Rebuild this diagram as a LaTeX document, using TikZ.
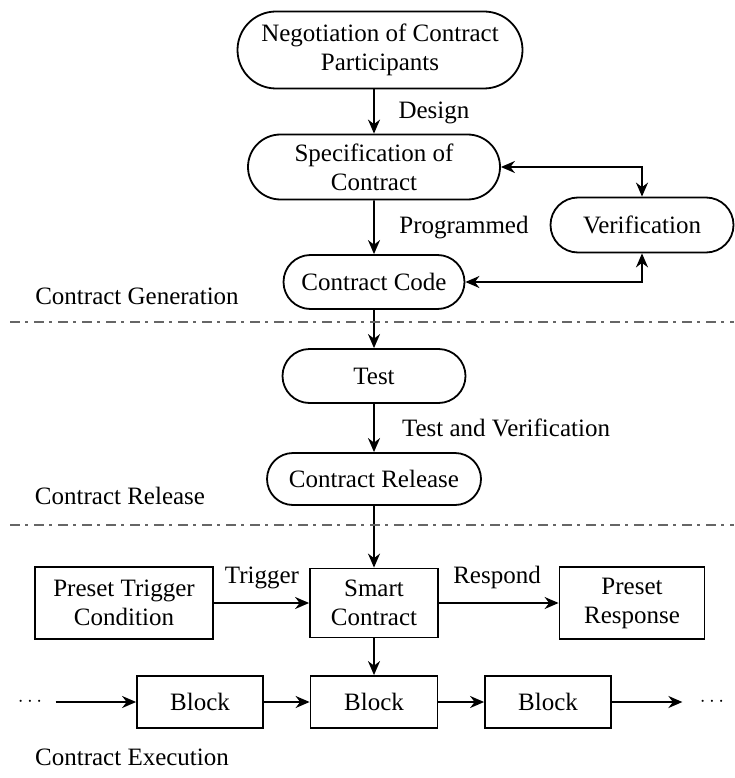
\documentclass[tikz,border=0pt]{standalone}
\usepackage{fontspec}
\setmainfont{Liberation Serif}
\usetikzlibrary{arrows.meta,shapes.misc}

\tikzset{
  phase/.style={draw, line width=1.8pt, rounded rectangle, align=center, inner sep=0pt},
  unit/.style={draw, line width=1.8pt, rectangle, align=center, inner sep=0pt},
  flow/.style={line width=1.8pt, -{Stealth[length=14pt,width=12pt]}},
  twoway/.style={line width=1.8pt, {Stealth[length=14pt,width=12pt]}-{Stealth[length=14pt,width=12pt]}},
  stage/.style={draw=black!60, line width=2.4pt, dash pattern=on 10pt off 5pt on 3pt off 6pt}
}

\begin{document}
\begin{tikzpicture}[x=1pt,y=-1pt, every node/.style={font=\fontsize{25}{29}\selectfont}]
            \useasboundingbox (0,0) rectangle (734,778);

            % contract generation
            \node[phase, minimum width=285pt, minimum height=77pt] (nego) at (380,50) {Negotiation of Contract\\Participants};
            \node[phase, minimum width=252pt, minimum height=65pt] (spec) at (374,167) {Specification of\\Contract};
            \node[phase, minimum width=183pt, minimum height=55pt] (verif) at (642,225) {Verification};
            \node[phase, minimum width=181pt, minimum height=54pt] (code) at (374,282) {Contract Code};

            % contract release
            \node[phase, minimum width=183pt, minimum height=54pt] (test) at (374,376) {Test};
            \node[phase, minimum width=214pt, minimum height=52pt] (release) at (374,479) {Contract Release};

            % contract execution
            \node[unit, minimum width=128pt, minimum height=69pt] (smart) at (374,603) {Smart\\Contract};
            \node[unit, minimum width=178pt, minimum height=72pt] (trigger) at (124,603) {Preset Trigger\\Condition};
            \node[unit, minimum width=145pt, minimum height=72pt] (response) at (632,603) {Preset\\Response};
            \node[unit, minimum width=126pt, minimum height=52pt] (blk1) at (200,702) {Block};
            \node[unit, minimum width=127pt, minimum height=52pt] (blk2) at (374,702) {Block};
            \node[unit, minimum width=126pt, minimum height=52pt] (blk3) at (548,702) {Block};
            \node[font=\fontsize{20}{20}\selectfont] (dotsL) at (30,702) {$\cdots$};
            \node[font=\fontsize{20}{20}\selectfont] (dotsR) at (712,702) {$\cdots$};

            \draw[flow] (spec.north |- nego.south) -- (spec.north);
            \draw[flow] (spec) -- (code);
            \draw[twoway] (spec.east) -| (verif.north);
            \draw[twoway] (code.east) -| (verif.south);
            \draw[flow] (code) -- (test);
            \draw[flow] (test) -- (release);
            \draw[flow] (release) -- (smart);
            \draw[flow] (trigger) -- (smart);
            \draw[flow] (smart) -- (response);
            \draw[flow] (smart) -- (blk2);
            \draw[flow, shorten <=10pt] (dotsL) -- (blk1);
            \draw[flow] (blk1) -- (blk2);
            \draw[flow] (blk2) -- (blk3);
            \draw[flow, shorten >=14pt] (blk3) -- (dotsR);

            % arrow labels
            \node (design) at (434,113) {Design};
            \node (prog) at (464,228) {Programmed};
            \node (testver) at (506,428) {Test and Verification};
            \node (trig) at (262,578) {Trigger};
            \node (resp) at (497,577) {Respond};

            % stages
            \draw[stage] (10,322) -- (734,322);
            \draw[stage] (10,525) -- (734,525);
            \node (gen) at (137,296) {Contract Generation};
            \node (rel) at (120,496) {Contract Release};
            \node (exe) at (132,757) {Contract Execution};
        \end{tikzpicture}
\end{document}
